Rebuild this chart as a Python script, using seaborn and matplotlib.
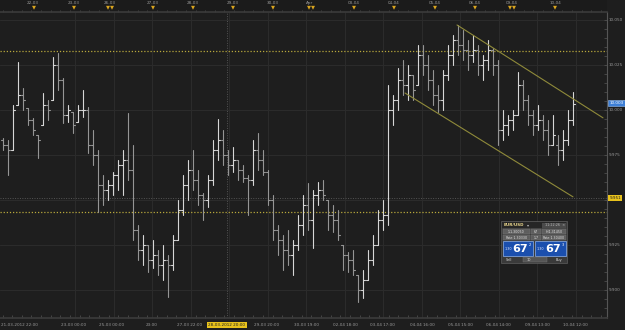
import numpy as np
import pandas as pd
import matplotlib
matplotlib.use("Agg")
import matplotlib.pyplot as plt
import seaborn as sns
from matplotlib.patches import Rectangle
from matplotlib.transforms import blended_transform_factory as blend

# ---------------- data (EUR/USD style OHLC bars) ----------------
open_ = [9.9833, 9.9806, 9.9778, 10.0028, 10.0083, 10.0011, 9.9944, 9.9861, 9.9917, 10.0028,
         10.0056, 10.0250, 10.0167, 9.9972, 9.9989, 9.9933, 10.0000, 10.0000, 9.9806, 9.9750,
         9.9583, 9.9556, 9.9583, 9.9639, 9.9694, 9.9722, 9.9667, 9.9333, 9.9222, 9.9250,
         9.9167, 9.9194, 9.9139, 9.9167, 9.9139, 9.9278, 9.9444, 9.9583, 9.9667, 9.9611,
         9.9528, 9.9500, 9.9611, 9.9778, 9.9833, 9.9750, 9.9694, 9.9722, 9.9667, 9.9622,
         9.9611, 9.9778, 9.9722, 9.9656, 9.9500, 9.9333, 9.9278, 9.9222, 9.9194, 9.9250,
         9.9361, 9.9472, 9.9389, 9.9528, 9.9556, 9.9500, 9.9417, 9.9389, 9.9250, 9.9194,
         9.9167, 9.9083, 9.9000, 9.9056, 9.9167, 9.9250, 9.9389, 9.9417, 10.0000, 10.0056,
         10.0167, 10.0139, 10.0194, 10.0139, 10.0306, 10.0250, 10.0167, 10.0083, 10.0056, 10.0194,
         10.0306, 10.0389, 10.0361, 10.0333, 10.0306, 10.0333, 10.0250, 10.0278, 10.0333, 10.0250,
         9.9889, 9.9917, 9.9944, 9.9972, 10.0139, 10.0056, 9.9972, 9.9917, 9.9944, 9.9889,
         9.9806, 9.9806, 9.9778, 9.9833, 9.9944]
high = [9.9844, 9.9833, 10.0028, 10.0267, 10.0122, 10.0011, 9.9956, 9.9861, 10.0094, 10.0056,
        10.0294, 10.0317, 10.0178, 10.0028, 9.9989, 10.0028, 10.0111, 10.0017, 9.9889, 9.9778,
        9.9639, 9.9611, 9.9656, 9.9722, 9.9778, 9.9983, 9.9806, 9.9361, 9.9306, 9.9250,
        9.9278, 9.9222, 9.9250, 9.9194, 9.9306, 9.9500, 9.9639, 9.9722, 9.9778, 9.9667,
        9.9539, 9.9639, 9.9833, 9.9950, 9.9889, 9.9778, 9.9794, 9.9722, 9.9694, 9.9639,
        9.9833, 9.9872, 9.9778, 9.9667, 9.9528, 9.9361, 9.9306, 9.9333, 9.9278, 9.9417,
        9.9528, 9.9594, 9.9556, 9.9600, 9.9611, 9.9500, 9.9472, 9.9444, 9.9250, 9.9211,
        9.9222, 9.9083, 9.9111, 9.9222, 9.9306, 9.9444, 9.9500, 10.0139, 10.0083, 10.0233,
        10.0278, 10.0250, 10.0194, 10.0361, 10.0361, 10.0306, 10.0222, 10.0139, 10.0222, 10.0361,
        10.0417, 10.0472, 10.0444, 10.0389, 10.0417, 10.0361, 10.0306, 10.0389, 10.0344, 10.0278,
        10.0000, 9.9972, 10.0000, 10.0211, 10.0167, 10.0083, 10.0000, 10.0028, 9.9972, 9.9944,
        9.9972, 9.9861, 9.9889, 10.0000, 10.0100]
low = [9.9778, 9.9639, 9.9778, 10.0028, 10.0000, 9.9917, 9.9861, 9.9733, 9.9917, 9.9944,
       10.0056, 10.0111, 9.9928, 9.9933, 9.9872, 9.9933, 9.9961, 9.9761, 9.9694, 9.9433,
       9.9472, 9.9500, 9.9528, 9.9556, 9.9528, 9.9611, 9.9278, 9.9167, 9.9139, 9.9100,
       9.9122, 9.9083, 9.9056, 9.8961, 9.9111, 9.9278, 9.9417, 9.9500, 9.9556, 9.9472,
       9.9389, 9.9461, 9.9583, 9.9722, 9.9694, 9.9639, 9.9656, 9.9611, 9.9600, 9.9417,
       9.9583, 9.9667, 9.9639, 9.9472, 9.9278, 9.9194, 9.9111, 9.9139, 9.9083, 9.9222,
       9.9306, 9.9333, 9.9233, 9.9472, 9.9500, 9.9333, 9.9322, 9.9278, 9.9111, 9.9100,
       9.9083, 9.8933, 9.8956, 9.9056, 9.9139, 9.9250, 9.9333, 9.9361, 9.9917, 10.0000,
       10.0083, 10.0056, 10.0056, 10.0139, 10.0194, 10.0111, 10.0028, 9.9989, 10.0000, 10.0167,
       10.0250, 10.0306, 10.0278, 10.0222, 10.0267, 10.0194, 10.0167, 10.0222, 10.0194, 9.9806,
       9.9833, 9.9861, 9.9889, 9.9972, 10.0000, 9.9917, 9.9861, 9.9889, 9.9833, 9.9750,
       9.9806, 9.9694, 9.9722, 9.9806, 9.9917]
close = [9.9806, 9.9778, 10.0000, 10.0083, 10.0056, 9.9944, 9.9889, 9.9833, 10.0028, 10.0000,
         10.0250, 10.0167, 9.9972, 10.0000, 9.9917, 10.0000, 10.0000, 9.9806, 9.9750, 9.9583,
         9.9556, 9.9583, 9.9639, 9.9694, 9.9722, 9.9667, 9.9333, 9.9222, 9.9250, 9.9167,
         9.9194, 9.9139, 9.9167, 9.9139, 9.9278, 9.9444, 9.9583, 9.9667, 9.9611, 9.9528,
         9.9500, 9.9611, 9.9778, 9.9833, 9.9750, 9.9694, 9.9722, 9.9667, 9.9622, 9.9611,
         9.9778, 9.9722, 9.9656, 9.9500, 9.9333, 9.9278, 9.9222, 9.9194, 9.9250, 9.9361,
         9.9472, 9.9389, 9.9528, 9.9556, 9.9528, 9.9417, 9.9389, 9.9306, 9.9194, 9.9167,
         9.9111, 9.9000, 9.9056, 9.9167, 9.9250, 9.9389, 9.9417, 10.0000, 10.0056, 10.0167,
         10.0139, 10.0194, 10.0111, 10.0306, 10.0250, 10.0167, 10.0083, 10.0056, 10.0194, 10.0306,
         10.0389, 10.0361, 10.0333, 10.0306, 10.0333, 10.0250, 10.0278, 10.0333, 10.0250, 9.9889,
         9.9917, 9.9944, 9.9972, 10.0139, 10.0056, 9.9972, 9.9917, 9.9944, 9.9889, 9.9806,
         9.9861, 9.9778, 9.9833, 9.9944, 10.0033]

price_ticks = [9.900, 9.925, 9.950, 9.975, 10.000, 10.025, 10.050]
price_labels = ["9.900", "9.925", "9.950", "9.975", "10.000", "10.025", "10.050"]

bottom_labels = ["21-03-2012 22:00", "23-03 00:00", "25-03 00:00", "23:00", "27-03 22:00",
                 "28-03-2012 20:00", "29-03 20:00", "30-03 19:00", "02-04 18:00", "03-04 17:00",
                 "04-04 16:00", "05-04 15:00", "06-04 14:00", "09-04 13:00", "10-04 12:00"]
bottom_pos = [-0.3, 14.3, 21.9, 29.9, 37.5, 44.9, 52.9, 60.9, 68.5, 75.9, 83.9, 91.5, 99.1, 106.9, 114.5]
grid_pos = [14.5, 22.2, 29.9, 37.7, 45.3, 53.1, 60.7, 68.5, 76.1, 83.9, 91.5, 99.3, 106.9, 114.7]

top_labels = ["22-03", "23-03", "26-03", "27-03", "28-03", "29-03", "30-03", "Apr",
              "03-04", "04-04", "05-04", "06-04", "09-04", "10-04"]
top_pos = [6.1, 14.3, 21.5, 30.1, 38.1, 46.1, 54.1, 61.5, 70.3, 78.3, 86.5, 94.5, 101.9, 110.5]
marker_pos = [6.3, 14.3, 21.1, 21.9, 30.1, 38.1, 46.1, 54.1, 61.3, 62.1, 70.3, 78.3, 86.5,
              94.5, 101.5, 102.3, 110.5]

level_lines = [10.0330, 9.9432]
cursor_bar, cursor_price = 44.9, 9.9513
cursor_date = "28-03-2012 20:00"
chan_up_x, chan_up_y = [90.9, 120.1], [10.0472, 9.9956]
chan_lo_x, chan_lo_y = [80.5, 114.1], [10.0094, 9.9517]

# ---------------- styling ----------------
BG = "#1e1e1e"
sns.set_theme(style="dark", rc={"axes.facecolor": BG, "figure.facecolor": BG,
                                "savefig.facecolor": BG, "axes.edgecolor": "#3a3a3a"})
plt.rcParams["font.family"] = ["DejaVu Sans"]
FS = 3.0

W, H = 625, 330
fig = plt.figure(figsize=(W / 100, H / 100), dpi=100)
AX_R = 607
ax = fig.add_axes([0, 12 / H, AX_R / W, 306 / H])
ax_top = fig.add_axes([0, 1 - 12 / H, AX_R / W, 12 / H], sharex=ax)
XL = (-0.5, -0.5 + AX_R / 5)
YL = (9.8844, 10.0544)

# grid
for p in price_ticks:
    ax.axhline(p, color="#2c2c2c", lw=0.7, zorder=0)
for g in grid_pos:
    ax.axvline(g, color="#2c2c2c", lw=0.7, zorder=0)

# ---------------- OHLC bars through seaborn ----------------
n = len(close)
rows = []
for i in range(n):
    d = "up" if close[i] >= open_[i] else "down"
    rows += [(i, low[i], i, d), (i, high[i], i, d)]
    rows += [(i - 0.4, open_[i], n + i, d), (i, open_[i], n + i, d)]
    rows += [(i, close[i], 2 * n + i, d), (i + 0.4, close[i], 2 * n + i, d)]
df = pd.DataFrame(rows, columns=["x", "price", "bar", "dir"])
sns.lineplot(data=df, x="x", y="price", units="bar", estimator=None, sort=False,
             hue="dir", palette={"up": "#d6d6d6", "down": "#959595"},
             lw=0.8, legend=False, ax=ax, zorder=3)

# level lines and channel
for lv in level_lines:
    ax.axhline(lv, color="#b8a83c", lw=0.9, ls=(0, (1, 1.5)), zorder=2)
ax.axhline(cursor_price, color="#555555", lw=0.7, ls=(0, (1, 1.5)), zorder=1)
ax.axvline(cursor_bar, color="#555555", lw=0.7, ls=(0, (1, 1.5)), zorder=1)
sns.lineplot(x=chan_up_x, y=chan_up_y, color="#8f8a3a", lw=0.8, ax=ax, zorder=4)
sns.lineplot(x=chan_lo_x, y=chan_lo_y, color="#8f8a3a", lw=0.8, ax=ax, zorder=4)

ax.set_xlim(*XL)
ax.set_ylim(*YL)
ax.set_xlabel("")
ax.set_ylabel("")
ax.set_xticks([])
ax.set_yticks([])
for s in ["left", "top"]:
    ax.spines[s].set_visible(False)
ax.spines["right"].set_color("#555555")
ax.spines["right"].set_linewidth(0.8)
ax.spines["bottom"].set_color("#3a3a3a")
ax.set_xticks(np.arange(0, 121, 1.93), minor=True)
ax.set_yticks(np.arange(9.885, 10.055, 0.005), minor=True)
ax.tick_params(which="minor", direction="in", length=2, width=0.5, color="#555555",
               bottom=True, left=False, right=True, labelbottom=False, labelright=False)

# right axis labels
tr_r = blend(fig.transFigure, ax.transData)
for p, lab in zip(price_ticks, price_labels):
    if abs(p - cursor_price) < 0.004:
        continue
    ax.text(609 / W, p, lab, transform=tr_r, fontsize=FS, color="#9a9a9a",
            va="center", ha="left")
ax.text(609.5 / W, close[-1] + 0.0006, f"{close[-1]:.3f}", transform=tr_r, fontsize=FS,
        color="white", va="center", ha="left",
        bbox=dict(boxstyle="square,pad=0.25", fc="#3d7fd6", ec="#9cc0f0", lw=0.4))
ax.text(609.5 / W, cursor_price, f"{cursor_price:.3f}", transform=tr_r, fontsize=FS,
        color="#1e1e1e", va="center", ha="left",
        bbox=dict(boxstyle="square,pad=0.25", fc="#e8c21c", ec="none"))

# bottom labels
tr_b = blend(ax.transData, fig.transFigure)
for k, (x, lab) in enumerate(zip(bottom_pos, bottom_labels)):
    ha = "left" if k == 0 else "center"
    if lab == cursor_date:
        ax.text(x, 1 - 325 / H, lab, transform=tr_b, fontsize=FS, color="#1e1e1e",
                ha=ha, va="center",
                bbox=dict(boxstyle="square,pad=0.25", fc="#e8c21c", ec="none"))
    else:
        ax.text(x, 1 - 325 / H, lab, transform=tr_b, fontsize=FS, color="#9a9a9a",
                ha=ha, va="center")

# top strip
ax_top.set_facecolor("#1b1b1b")
ax_top.set_ylim(0, 12)
mk = pd.DataFrame({"x": marker_pos, "y": [4.2] * len(marker_pos)})
sns.scatterplot(data=mk, x="x", y="y", marker="v", s=8, color="#d9a520",
                edgecolor="none", ax=ax_top, zorder=3)
for x, lab in zip(top_pos, top_labels):
    ax_top.text(x, 9.0, lab, fontsize=FS, color="#9a9a9a", ha="center", va="center")
ax_top.set_xlim(*XL)
ax_top.set_xlabel("")
ax_top.set_ylabel("")
ax_top.set_yticks([])
ax_top.set_xticks([])
ax_top.set_xticks(np.arange(0, 121, 1.93), minor=True)
ax_top.tick_params(which="minor", direction="in", length=1.5, width=0.5, color="#555555",
                   bottom=True, labelbottom=False)
for s in ["left", "top", "right"]:
    ax_top.spines[s].set_visible(False)
ax_top.spines["bottom"].set_color("#3a3a3a")


# ---------------- trading widget (pixel layout) ----------------
def rect(x0, y0, x1, y1, fc, ec="none", lw=0.4):
    fig.patches.append(Rectangle((x0 / W, 1 - y1 / H), (x1 - x0) / W, (y1 - y0) / H,
                                 transform=fig.transFigure, fc=fc, ec=ec, lw=lw, zorder=10))


def txt(x, y, s, size=2.8, color="#dddddd", ha="left", weight="normal"):
    fig.text(x / W, 1 - y / H, s, fontsize=size, color=color, ha=ha, va="center",
             weight=weight, zorder=11)


rect(501, 221, 567, 263, "#3a3a3a", "#6a6a6a")
rect(502, 222, 566, 228, "#262626")
txt(504, 225.2, "EUR/USD", 3.0, "#e6d38a", weight="bold")
txt(527, 225.2, "\u25be", 3.0, "#bbbbbb")
rect(542, 222.5, 566, 227.5, "#4a4a4a")
txt(565, 225.2, "11:22:26  \u2715", 2.4, "#bbbbbb", ha="right")
for (a, b, s1) in [(503, 530, "1:1.30050"), (531, 541, "67"), (542, 566, "H:1.31450")]:
    rect(a, 229, b, 234, "#5e5e5e", "#777777", 0.3)
    txt((a + b) / 2, 231.6, s1, 2.3, "#e6e6e6", ha="center")
for (a, b, s1) in [(503, 530, "Rate:1.30330"), (531, 541, "1.7"), (542, 566, "Rate:1.30400")]:
    rect(a, 235, b, 240, "#5e5e5e", "#777777", 0.3)
    txt((a + b) / 2, 237.6, s1, 2.3, "#e6e6e6", ha="center")
for (a, b, sup) in [(503, 533, "2"), (535, 566, "3")]:
    rect(a, 241, b, 256, "#1b4fae", "#8fb2ea", 0.5)
    txt(a + 1.2, 249.5, "1.30", 2.4, "#dfe8ff")
    txt((a + b) / 2 + 2.5, 249, "67", 8.0, "white", ha="center", weight="bold")
    txt(b - 3.0, 244.5, sup, 2.6, "white", ha="center")
txt(509, 259.6, "Sell", 2.5, "#dddddd", ha="center")
rect(523, 257.3, 547, 262, "#555555", "#777777", 0.3)
txt(527, 259.6, "10", 2.5, "#dddddd")
txt(559, 259.6, "Buy", 2.5, "#dddddd", ha="center")

fig.savefig("out.png", dpi=100, facecolor=BG)
